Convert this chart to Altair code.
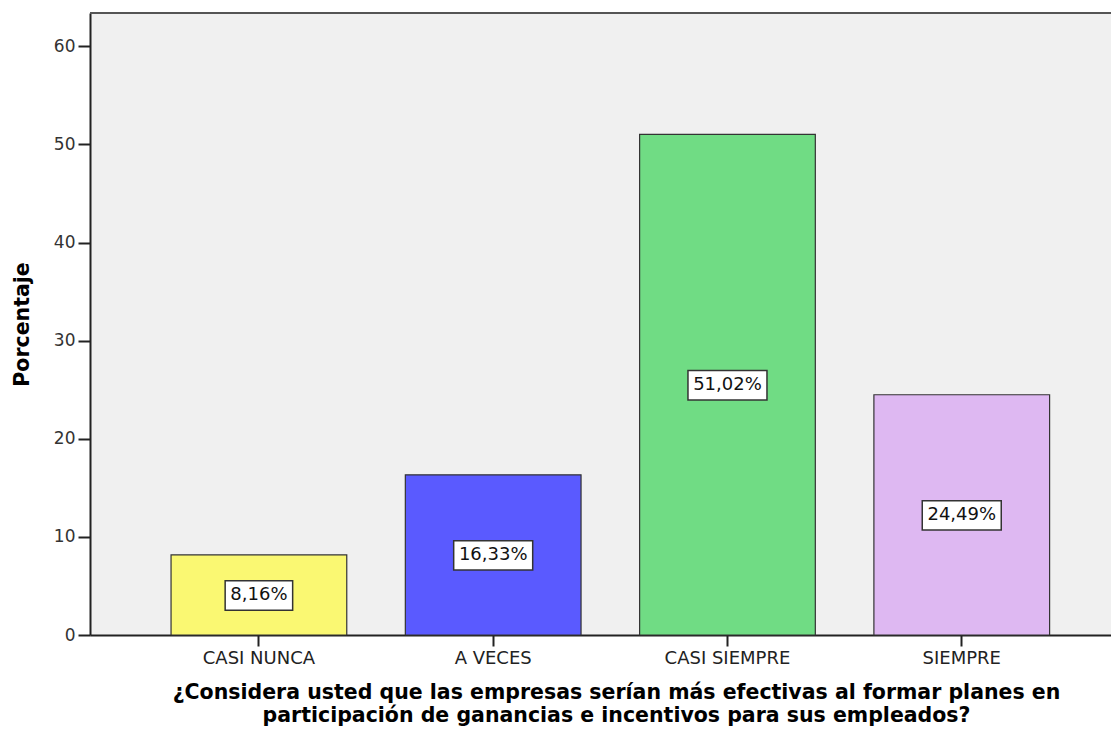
import altair as alt
import pandas as pd

categories = ["CASI NUNCA", "A VECES", "CASI SIEMPRE", "SIEMPRE"]
values = [8.16, 16.33, 51.02, 24.49]
labels = ["8,16%", "16,33%", "51,02%", "24,49%"]
colors = ["#FAF872", "#5A5AFF", "#70DC84", "#DEB8F2"]

df = pd.DataFrame({"cat": categories, "pct": values, "label": labels})

W, H = 1021, 622
YMAX = 63.4

x = alt.X(
    "cat:N",
    sort=categories,
    scale=alt.Scale(paddingInner=0.25, paddingOuter=0.304, align=0.569),
    axis=alt.Axis(
        title=["¿Considera usted que las empresas serían más efectivas al formar planes en",
               "participación de ganancias e incentivos para sus empleados?"],
        titleFont="DejaVu Sans", titleFontSize=20.5, titleFontWeight="bold", titleColor="#000",
        titleX=526, titleY=63, titleBaseline="alphabetic", titleAlign="center",
        titleLineHeight=23,
        labelFont="DejaVu Sans", labelFontSize=18, labelColor="#222", labelAngle=0,
        labelPadding=3, tickSize=11, tickColor="#222", tickWidth=2,
        domainColor="#222", domainWidth=2,
    ),
)

y_axis = alt.Axis(
    title="Porcentaje", titleFont="DejaVu Sans", titleFontSize=20.5, titleFontWeight="bold",
    titleColor="#000", titleAngle=-90, titleX=-68, titleY=H / 2, titleBaseline="middle",
    titleAlign="center",
    values=[0, 10, 20, 30, 40, 50, 60], labelFont="DejaVu Sans", labelFontSize=17,
    labelColor="#333", labelPadding=3, tickSize=12, tickColor="#222", tickWidth=2,
    domainColor="#222", domainWidth=2, grid=False,
)

bars = alt.Chart(df).mark_bar(stroke="#333", strokeWidth=1.2).encode(
    x=x,
    y=alt.Y("pct:Q", scale=alt.Scale(domain=[0, YMAX], nice=False), axis=y_axis),
    color=alt.Color("cat:N", sort=categories,
                    scale=alt.Scale(domain=categories, range=colors), legend=None),
)

boxes = alt.Chart(df).transform_calculate(
    lo="datum.pct/2 - 1.55", hi="datum.pct/2 + 1.45", w="length(datum.label) * 11.5 + 10"
).mark_bar(fill="white", stroke="#333", strokeWidth=1.5).encode(
    x=alt.X("cat:N", sort=categories),
    y="lo:Q",
    y2="hi:Q",
    size=alt.Size("w:Q", scale=None),
)

texts = alt.Chart(df).transform_calculate(mid="datum.pct/2 - 0.05").mark_text(
    font="DejaVu Sans", fontSize=18, color="#111", baseline="middle"
).encode(
    x=alt.X("cat:N", sort=categories),
    y="mid:Q",
    text="label:N",
)

top = alt.Chart(df).mark_rule(color="#555", strokeWidth=2).encode(
    x=alt.value(0), x2=alt.value(W), y=alt.value(0)
)

chart = alt.layer(bars, boxes, texts, top).properties(
    width=W, height=H,
    background="white",
    autosize=alt.AutoSizeParams(type="none"),
    padding={"left": 82, "top": 5, "right": 0, "bottom": 91},
).configure_view(fill="#F0F0F0", stroke=None)

chart.save("out.html", embed_options={"renderer": "svg", "actions": False})
